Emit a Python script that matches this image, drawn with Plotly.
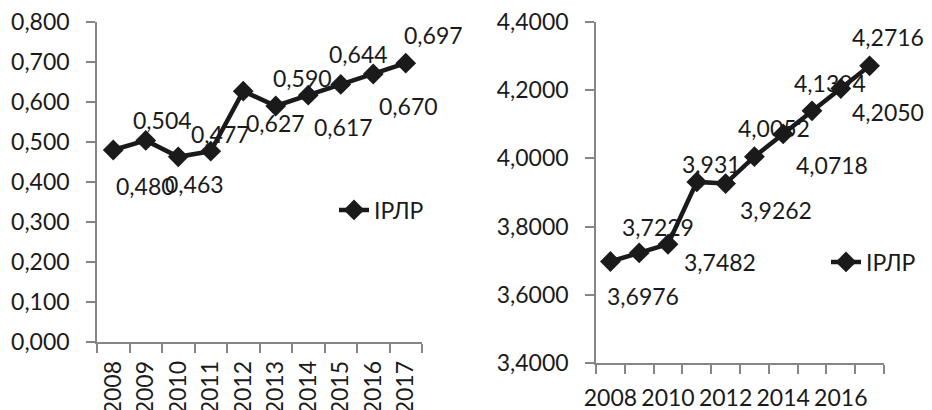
import plotly.graph_objects as go

years = [2008, 2009, 2010, 2011, 2012, 2013, 2014, 2015, 2016, 2017]
left_values = [0.480, 0.504, 0.463, 0.477, 0.627, 0.590, 0.617, 0.644, 0.670, 0.697]
left_labels = ["0,480", "0,504", "0,463", "0,477", "0,627", "0,590", "0,617", "0,644", "0,670", "0,697"]
right_values = [3.6976, 3.7229, 3.7482, 3.931, 3.9262, 4.0052, 4.0718, 4.1394, 4.2050, 4.2716]
right_labels = ["3,6976", "3,7229", "3,7482", "3,931", "3,9262", "4,0052", "4,0718", "4,1394", "4,2050", "4,2716"]
right_tick_years = [2008, 2010, 2012, 2014, 2016]
series_name = "ІРЛР"

# label offsets in pixels (dx right, dy down) - style only
left_offsets = [(32, 36), (17, -20), (16, 27), (10, -17), (32, 32), (27, -28), (35, 32), (18, -30), (35, 32), (28, -28)]
right_offsets = [(33, 34), (19, -26), (52, 18), (15, -18), (50, 26), (20, -29), (49, 31), (18, -28), (47, 24), (18, -29)]

FONT = "Lato"
FS = 23
LINE = "#1a1a1a"
AX = "#868686"
TXT = "#1a1a1a"

# page has an 8px body margin; figure fills the rest of the 932x410 window
PAD = 8
W, H = 932 - PAD, 410 - PAD
def px_x(a, b):
    return [(a - PAD) / W, (b - PAD) / W]
def px_y(top, bottom):
    return [1 - (bottom - PAD) / H, 1 - (top - PAD) / H]

fig = go.Figure()
fig.add_trace(go.Scatter(
    x=years, y=left_values, mode="lines+markers", name=series_name,
    line=dict(color=LINE, width=4.5),
    marker=dict(symbol="diamond", size=16, color=LINE),
    xaxis="x", yaxis="y", legend="legend"))
fig.add_trace(go.Scatter(
    x=years, y=right_values, mode="lines+markers", name=series_name,
    line=dict(color=LINE, width=4.5),
    marker=dict(symbol="diamond", size=16, color=LINE),
    xaxis="x2", yaxis="y2", legend="legend2"))

annotations = []
for xv, yv, t, (dx, dy) in zip(years, left_values, left_labels, left_offsets):
    annotations.append(dict(x=xv, y=yv, xref="x", yref="y", text=t, showarrow=False,
                            xshift=dx, yshift=-dy, font=dict(family=FONT, size=FS, color=TXT)))
for xv, yv, t, (dx, dy) in zip(years, right_values, right_labels, right_offsets):
    annotations.append(dict(x=xv, y=yv, xref="x2", yref="y2", text=t, showarrow=False,
                            xshift=dx, yshift=-dy, font=dict(family=FONT, size=FS, color=TXT)))

common_y = dict(showline=True, linecolor=AX, linewidth=1.5, ticks="outside", ticklen=9,
                tickcolor=AX, tickwidth=1.5, showgrid=False, zeroline=False, automargin=False,
                ticklabelstandoff=12, ticklabeloverflow="allow",
                tickfont=dict(family=FONT, size=FS, color=TXT))
boundaries = [y - 0.5 for y in years] + [years[-1] + 0.5]
minor_ticks = dict(tickvals=boundaries, ticks="outside", ticklen=9, tickcolor=AX,
                   tickwidth=1.5, showgrid=False)

fig.update_layout(
    width=W, height=H, margin=dict(l=0, r=0, t=0, b=0, autoexpand=False),
    paper_bgcolor="white", plot_bgcolor="white",
    separators=",.",
    font=dict(family=FONT, size=FS, color=TXT),
    xaxis=dict(domain=px_x(97, 422), range=[2007.5, 2017.5], tickvals=years,
               ticktext=[str(y) for y in years], tickangle=-90, ticks="",
               showline=True, linecolor=AX, linewidth=1.5, showgrid=False, zeroline=False,
               ticklabelstandoff=8, automargin=False, minor=minor_ticks,
               ticklabeloverflow="allow",
               tickfont=dict(family=FONT, size=FS, color=TXT), anchor="y"),
    yaxis=dict(domain=px_y(22, 342), range=[0, 0.8], dtick=0.1, tickformat=".3f",
               anchor="x", **common_y),
    xaxis2=dict(domain=px_x(596, 884), range=[2007.5, 2017.5],
                tickvals=right_tick_years, ticktext=[str(y) for y in right_tick_years],
                tickangle=0, ticks="",
                showline=True, linecolor=AX, linewidth=1.5, showgrid=False, zeroline=False,
                ticklabelstandoff=14, automargin=False, minor=minor_ticks,
                ticklabeloverflow="allow",
                tickfont=dict(family=FONT, size=FS, color=TXT), anchor="y2"),
    yaxis2=dict(domain=px_y(22, 363), range=[3.4, 4.4], dtick=0.2, tickformat=".4f",
                anchor="x2", **common_y),
    legend=dict(x=(334 - PAD) / W, y=1 - (210 - PAD) / H, xanchor="left", yanchor="middle",
                bgcolor="rgba(0,0,0,0)", font=dict(family=FONT, size=FS, color=TXT)),
    legend2=dict(x=(826 - PAD) / W, y=1 - (262 - PAD) / H, xanchor="left", yanchor="middle",
                 bgcolor="rgba(0,0,0,0)", font=dict(family=FONT, size=FS, color=TXT)),
    annotations=annotations,
    showlegend=True,
)

fig.write_html("out.html")
